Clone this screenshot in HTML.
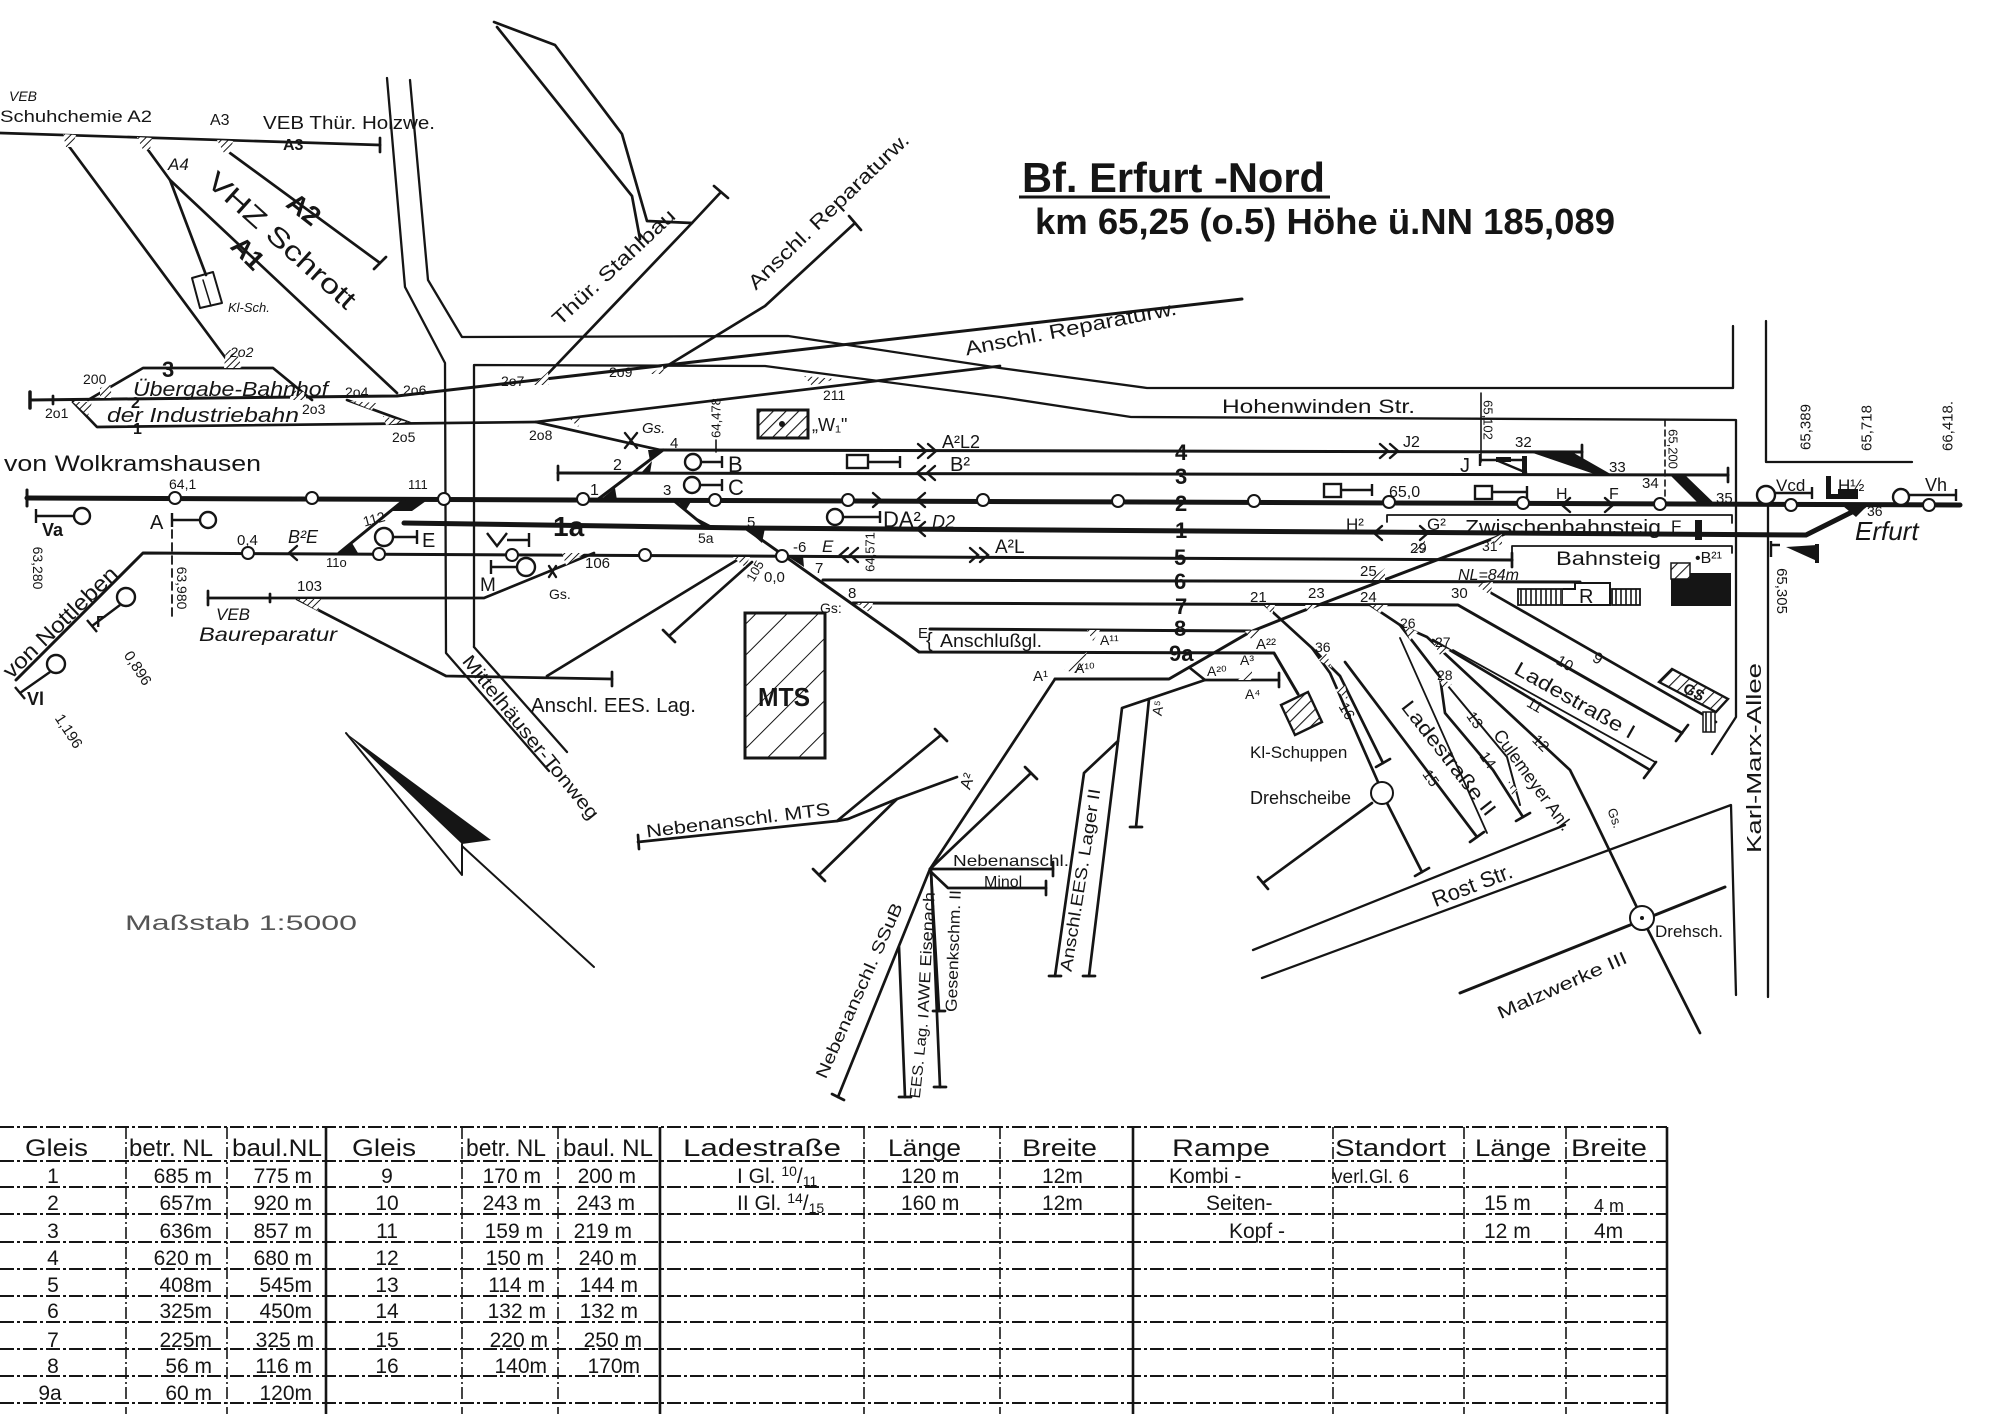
<!DOCTYPE html>
<html><head><meta charset="utf-8">
<style>
html,body{margin:0;padding:0;background:#fff;}
svg{display:block;}
text{font-family:"Liberation Sans",sans-serif;fill:#151515;}
.i{font-style:italic;}
.b{font-weight:bold;}
</style></head><body>
<svg width="2000" height="1414" viewBox="0 0 2000 1414" xmlns="http://www.w3.org/2000/svg">
<defs>
<pattern id="h" patternUnits="userSpaceOnUse" width="5" height="5" patternTransform="rotate(45)"><rect width="5" height="5" fill="#fff"/><line x1="0" y1="0" x2="0" y2="5" stroke="#151515" stroke-width="2"/></pattern>
<pattern id="hb" patternUnits="userSpaceOnUse" width="22" height="22" patternTransform="rotate(45)"><rect width="22" height="22" fill="#fff"/><line x1="0" y1="0" x2="0" y2="22" stroke="#151515" stroke-width="2"/></pattern>
<pattern id="hm" patternUnits="userSpaceOnUse" width="9" height="9" patternTransform="rotate(45)"><rect width="9" height="9" fill="#fff"/><line x1="0" y1="0" x2="0" y2="9" stroke="#151515" stroke-width="2.2"/></pattern>
<pattern id="vs" patternUnits="userSpaceOnUse" width="5" height="5"><rect width="5" height="5" fill="#fff"/><line x1="1" y1="0" x2="1" y2="5" stroke="#151515" stroke-width="1.6"/></pattern>
</defs>
<rect width="2000" height="1414" fill="#fff"/>

<!-- ============ LINES ============ -->
<g fill="none" stroke="#151515" stroke-width="2.7" stroke-linecap="round" stroke-linejoin="round">
<path d="M0,133 L380,145"/><path d="M380,138 L380,152"/>
<path d="M68,145 L233,368"/>
<path d="M143,143 L170,180 L397,393"/>
<path d="M170,180 L206,275"/>
<path d="M230,153 L380,263"/><path d="M374,269 L386,257"/>
<polygon points="192,278 213,272 222,303 200,308" stroke-width="2"/>
<path d="M203,280 L211,306" stroke-width="1.5"/>
<path d="M88,400 L143,368 L273,368 L312,400"/>
<path d="M30,400 L397,396 L1242,299" stroke-width="3"/>
<path d="M30,392 L30,408" stroke-width="3.5"/><path d="M53,396 L53,404"/>
<path d="M73,402 L97,427 L536,422"/>
<path d="M347,400 L410,423"/>
<path d="M536,422 L660,450"/>
<path d="M536,422 L1000,366"/>
<g stroke-width="2.3">
<path d="M387,78 L405,287 L445,363 L446,653 L549,771"/>
<path d="M410,80 L428,280 L462,337 L788,336 L1000,368 L1147,388 L1733,388 L1733,326"/>
<path d="M474,647 L474,365 L765,366 L1000,397 L1131,417 L1736,420 L1736,717 L1712,754"/>
<path d="M474,647 L567,752"/>
<path d="M1766,321 L1766,462 L1912,462"/>
<path d="M1768,505 L1768,997"/>
<path d="M1253,950 L1565,825"/>
<path d="M1262,978 L1731,805 L1736,995"/>
</g>
<path d="M542,380 L692,223 L721,192"/><path d="M714,186 L728,198"/>
<path d="M494,22 L555,45 L622,134 L647,221 L692,223"/>
<path d="M497,27 L632,196 L640,239"/>
<path d="M657,372 L765,306 L855,223"/><path d="M849,216 L861,230"/>

<path d="M27,498 L1960,505" stroke-width="5"/>
<path d="M27,490 L27,506" stroke-width="3"/>
<path d="M404,523 L745,528 L1806,535 L1864,506" stroke-width="5"/>
<path d="M339,553 L404,500" stroke-width="3"/>
<path d="M16,680 L143,553 L1512,560" stroke-width="3"/><path d="M1512,553 L1512,567"/>
<path d="M558,473 L1728,475" stroke-width="3"/><path d="M558,466 L558,480"/><path d="M1728,468 L1728,482"/>
<path d="M660,450 L1582,452" stroke-width="3"/><path d="M1582,445 L1582,459"/>
<path d="M663,450 L597,500" stroke-width="3"/>
<path d="M673,500 L707,528" stroke-width="3"/>
<path d="M745,528 L903,640 L919,652 L1274,653 L1298,694" stroke-width="3"/>
<path d="M823,580 L1580,582" stroke-width="3"/>
<path d="M853,603 L1458,605 L1682,733" stroke-width="3"/><path d="M1676,741 L1688,725"/>
<path d="M930,629 L1250,631" stroke-width="3"/>
<path d="M1055,679 L1169,679 L1250,632 L1300,612 L1505,534" stroke-width="3"/>
<path d="M1055,679 L930,869"/>
<path d="M957,777 L897,799 L848,819 L837,821 L638,842"/><path d="M638,835 L639,849"/>
<path d="M941,735 L837,821"/><path d="M935,729 L947,741"/>
<path d="M897,799 L819,875"/><path d="M813,869 L825,881"/>
<path d="M930,869 L1031,773"/><path d="M1025,767 L1037,779"/>
<path d="M930,869 L1053,869"/><path d="M1053,862 L1053,876"/>
<path d="M930,871 L948,888 L1046,888"/><path d="M1046,881 L1046,895"/>
<path d="M930,869 L838,1097"/><path d="M832,1094 L844,1100"/>
<path d="M931,870 L940,1087"/><path d="M934,1087 L946,1087"/>
<path d="M931,872 L939,1011"/><path d="M933,1011 L945,1011"/>
<path d="M899,947 L905,1097"/><path d="M899,1097 L911,1097"/>
<path d="M1190,668 L1205,680 L1279,680"/><path d="M1279,673 L1279,687"/>
<path d="M1205,680 L1122,708 L1118,741 L1089,976"/><path d="M1083,976 L1095,976"/>
<path d="M1118,741 L1084,773 L1055,976"/><path d="M1049,976 L1061,976"/>
<path d="M1149,699 L1136,827"/><path d="M1130,827 L1142,827"/>
<path d="M742,557 L547,676"/>
<path d="M297,599 L446,676 L612,679"/><path d="M612,672 L612,686"/>
<path d="M208,598 L484,598 L594,553"/><path d="M208,591 L208,605"/><path d="M270,594 L270,602"/>
<path d="M752,562 L669,636"/><path d="M663,630 L675,642"/>
<path d="M1486,590 L1716,722"/>
<path d="M1433,640 L1650,770"/><path d="M1644,778 L1656,762"/>
<path d="M1453,650 L1655,762" stroke-width="1.8"/>
<path d="M1370,605 L1400,625 L1427,637 L1570,770 L1590,810 L1642,918 L1700,1033"/>
<path d="M1400,625 L1440,677 L1445,713 L1493,770 L1523,817"/><path d="M1516,821 L1530,813"/>
<path d="M1443,680 L1507,757 L1520,805" stroke-width="2"/>
<path d="M1400,638 L1487,833" stroke-width="1.8"/>
<path d="M1345,662 L1477,837"/><path d="M1470,842 L1484,832"/>
<path d="M1265,605 L1312,648 L1340,676 L1383,763"/><path d="M1376,767 L1390,759"/>
<path d="M1312,648 L1330,673 L1378,782"/>
<path d="M1372,803 L1263,883"/><path d="M1258,877 L1268,889"/>
<path d="M1387,803 L1422,872"/><path d="M1415,876 L1429,868"/>
<path d="M1460,993 L1725,887" stroke-width="3"/>
<path d="M1387,522 L1387,515 L1732,515 L1732,523" stroke-width="1.8"/>
<path d="M1512,553 L1512,546 L1732,546 L1732,553" stroke-width="1.8"/>
<path d="M1481,393 L1481,462" stroke-width="1.6"/>
<path d="M1665,420 L1665,505" stroke-width="1.6" stroke-dasharray="6 4"/>
<path d="M172,530 L172,618" stroke-width="1.8" stroke-dasharray="8 5"/>
<path d="M716,440 L716,452" stroke-width="1.6"/>
<path d="M346,733 L462,875 L462,844" stroke-width="2"/>
<path d="M462,846 L594,967" stroke-width="2"/>
</g>

<g fill="#fff" stroke="#151515" stroke-width="2.4">
<path d="M36,509 L36,523 M36,516 L74,516" fill="none"/><circle cx="82" cy="516" r="8"/>
<path d="M172,513 L172,527 M172,520 L200,520" fill="none"/><circle cx="208" cy="520" r="8"/>
<circle cx="384" cy="537" r="9"/><path d="M393,537 L417,537 M417,530 L417,544" fill="none"/>
<path d="M487,533 L497,546 L507,533 M507,540 L529,540 M529,533 L529,547" fill="none"/>
<path d="M491,560 L491,574 M491,567 L517,567" fill="none"/><circle cx="526" cy="567" r="9"/>
<circle cx="693" cy="462" r="8"/><path d="M701,462 L722,462 M722,456 L722,468" fill="none"/>
<circle cx="692" cy="485" r="8"/><path d="M700,485 L722,485 M722,479 L722,491" fill="none"/>
<circle cx="835" cy="517" r="8"/><path d="M843,517 L880,517 M880,511 L880,523" fill="none"/>
<rect x="847" y="455" width="21" height="13"/><path d="M868,462 L900,462 M900,456 L900,468" fill="none"/>
<rect x="1324" y="484" width="17" height="13"/><path d="M1341,490 L1372,490 M1372,484 L1372,496" fill="none"/>
<rect x="1475" y="486" width="17" height="13"/><path d="M1492,492 L1527,492 M1527,486 L1527,498" fill="none"/>
<circle cx="1766" cy="495" r="9"/><path d="M1775,493 L1812,493 M1812,487 L1812,499" fill="none"/>
<circle cx="1901" cy="497" r="8"/><path d="M1909,495 L1956,495 M1956,489 L1956,501" fill="none"/>
<circle cx="56" cy="664" r="9"/><path d="M50,672 L20,693 M15,687 L25,699" fill="none"/>
<circle cx="126" cy="597" r="9"/><path d="M120,605 L92,626 M87,620 L97,632" fill="none"/>
<path d="M1480,460 L1527,460 M1480,454 L1480,466 M1496,460 L1527,473" fill="none"/>
<path d="M1771,541 L1771,557 M1771,545 L1780,545" fill="none"/>
<g stroke-width="2">
<circle cx="175" cy="498" r="6"/><circle cx="312" cy="498" r="6"/><circle cx="444" cy="499" r="6"/>
<circle cx="583" cy="499" r="6"/><circle cx="715" cy="500" r="6"/><circle cx="848" cy="500" r="6"/>
<circle cx="983" cy="500" r="6"/><circle cx="1118" cy="501" r="6"/><circle cx="1254" cy="501" r="6"/>
<circle cx="1389" cy="502" r="6"/><circle cx="1523" cy="503" r="6"/><circle cx="1660" cy="504" r="6"/>
<circle cx="1791" cy="505" r="6"/><circle cx="1929" cy="505" r="6"/>
<circle cx="248" cy="553" r="6"/><circle cx="379" cy="554" r="6"/><circle cx="512" cy="555" r="6"/>
<circle cx="645" cy="555" r="6"/><circle cx="782" cy="556" r="6"/>
<circle cx="1382" cy="793" r="11"/>
<circle cx="1642" cy="918" r="12"/>
</g>
</g>
<circle cx="1642" cy="918" r="2" fill="#151515"/>

<g fill="none" stroke="#151515" stroke-width="2.4" stroke-linecap="round">
<path d="M1380,444 L1388,451 L1380,458 M1390,444 L1398,451 L1390,458"/>
<path d="M918,444 L926,451 L918,458 M928,444 L936,451 L928,458"/>
<path d="M925,466 L917,473 L925,480 M935,466 L927,473 L935,480"/>
<path d="M873,493 L881,500 L873,507"/><path d="M925,493 L917,500 L925,507"/>
<path d="M1570,498 L1562,505 L1570,512"/><path d="M1605,498 L1613,505 L1605,512"/>
<path d="M925,522 L917,529 L925,536"/>
<path d="M1382,526 L1374,533 L1382,540"/><path d="M1420,526 L1428,533 L1420,540"/>
<path d="M297,546 L289,553 L297,560"/>
<path d="M848,548 L840,555 L848,562 M858,548 L850,555 L858,562"/>
<path d="M970,548 L978,555 L970,562 M980,548 L988,555 L980,562"/>
<path d="M625,433 L637,448 M637,433 L625,448"/>
<path d="M549,566 L556,577 M556,566 L549,577"/>
</g>

<g fill="#151515">
<polygon points="392,511 404,501 426,501 412,511"/>
<polygon points="339,553 352,543 358,553"/>
<polygon points="648,450 665,450 650,461"/>
<polygon points="652,461 641,473 650,473"/>
<polygon points="615,488 600,500 617,500"/>
<polygon points="676,500 692,500 686,510"/>
<polygon points="697,518 707,528 716,528"/>
<polygon points="745,528 765,528 762,543"/>
<polygon points="787,556 803,556 804,567"/>
<polygon points="1530,452 1572,452 1614,476 1600,476"/>
<polygon points="1671,476 1686,476 1716,505 1700,505"/>
<polygon points="1843,506 1867,506 1856,517"/>
<rect x="1496" y="457" width="15" height="5"/>
<rect x="1522" y="456" width="5" height="18"/>
<rect x="1695" y="520" width="7" height="20"/>
<rect x="1826" y="476" width="5" height="23"/>
<rect x="1826" y="494" width="32" height="5"/>
<rect x="1838" y="489" width="20" height="9"/>
<polygon points="1786,547 1817,545 1817,561"/>
<rect x="1815" y="544" width="4" height="19"/>
<rect x="1671" y="573" width="60" height="33"/>
<polygon points="346,733 491,840 462,844"/>
</g>

<g fill="url(#h)" stroke="none">
<polygon points="63,134 76,135 72,147 66,147"/>
<polygon points="137,137 152,138 150,150 143,150"/>
<polygon points="217,140 233,141 230,153 224,153"/>
<polygon points="226,350 236,350 242,368 224,368"/>
<polygon points="100,388 110,384 112,398 100,398"/>
<polygon points="73,402 92,402 88,416"/>
<polygon points="290,390 304,392 307,400 290,400"/>
<polygon points="350,401 376,403 372,410"/>
<polygon points="383,416 408,422 386,425"/>
<polygon points="533,385 548,372 549,385"/>
<polygon points="650,374 663,366 664,374"/>
<polygon points="804,376 835,379 812,386"/>
<polygon points="570,419 583,418 578,427"/>
<polygon points="297,599 321,599 318,611"/>
<polygon points="562,553 585,553 566,565"/>
<polygon points="733,557 750,557 745,567"/>
<polygon points="857,603 873,603 870,613"/>
<polygon points="1087,630 1100,630 1093,641"/>
<polygon points="1064,670 1087,652 1080,674"/>
<polygon points="1245,631 1260,630 1252,640"/>
<polygon points="1238,680 1252,668 1252,680"/>
<polygon points="1265,605 1275,605 1272,615"/>
<polygon points="1305,605 1317,605 1308,613"/>
<polygon points="1370,605 1388,605 1380,613"/>
<polygon points="1475,584 1493,582 1490,595"/>
<polygon points="1412,553 1425,540 1425,553"/>
<polygon points="1370,580 1385,568 1385,580"/>
<polygon points="1490,540 1502,534 1502,546"/>
<polygon points="1318,660 1326,653 1332,668"/>
<polygon points="1335,690 1345,685 1348,700"/>
<polygon points="1403,625 1418,632 1410,640"/>
<polygon points="1433,642 1450,650 1440,655"/>
<polygon points="1438,677 1452,684 1444,690"/>
<polygon points="1508,780 1518,790 1512,795"/>
</g>

<rect x="758" y="410" width="50" height="28" fill="url(#hm)" stroke="#151515" stroke-width="3"/>
<circle cx="782" cy="424" r="3" fill="#151515"/>
<rect x="745" y="613" width="80" height="145" fill="url(#hb)" stroke="#151515" stroke-width="3"/>
<polygon points="1281,705 1308,692 1322,722 1295,735" fill="url(#hm)" stroke="#151515" stroke-width="2.4"/>
<polygon points="1659,682 1672,669 1728,699 1716,712" fill="url(#hm)" stroke="#151515" stroke-width="2.4"/>
<text transform="translate(1694,692) rotate(28)" text-anchor="middle" dy="0.35em" font-size="15" class="b" style="fill:#151515;paint-order:stroke;stroke:#fff;stroke-width:0">GS</text>
<rect x="1703" y="712" width="12" height="20" fill="url(#vs)" stroke="#151515" stroke-width="1.5"/>
<rect x="1518" y="589" width="45" height="16" fill="url(#vs)" stroke="#151515" stroke-width="1.8"/>
<path d="M1563,589 L1575,589 L1575,583 L1610,583 L1610,605 L1563,605" fill="#fff" stroke="#151515" stroke-width="2"/>
<rect x="1612" y="589" width="28" height="16" fill="url(#vs)" stroke="#151515" stroke-width="1.8"/>
<rect x="1671" y="563" width="19" height="16" fill="url(#hm)" stroke="#151515" stroke-width="1.5"/>

<!-- ============ TEXT ============ -->
<text x="1022" y="192" font-size="42" class="b" textLength="303" lengthAdjust="spacingAndGlyphs">Bf. Erfurt -Nord</text>
<path d="M1019,197 L1330,197" stroke="#151515" stroke-width="3"/>
<text x="1035" y="234" font-size="36" class="b" textLength="580" lengthAdjust="spacingAndGlyphs">km 65,25 (o.5) Höhe ü.NN 185,089</text>

<text x="9" y="101" font-size="14" class="i">VEB</text>
<text x="0" y="122" font-size="17" textLength="152" lengthAdjust="spacingAndGlyphs">Schuhchemie A2</text>
<text x="210" y="125" font-size="16">A3</text>
<text x="263" y="129" font-size="18" textLength="172" lengthAdjust="spacingAndGlyphs">VEB Thür. Holzwe.</text>
<text x="283" y="150" font-size="16" class="b">A3</text>
<text x="168" y="170" font-size="17" class="i">A4</text>
<text transform="translate(282,240) rotate(42)" text-anchor="middle" dy="0.35em" font-size="27" textLength="190" lengthAdjust="spacingAndGlyphs">VHZ Schrott</text>
<text transform="translate(304,209) rotate(38)" text-anchor="middle" dy="0.35em" font-size="27" class="b">A2</text>
<text transform="translate(248,253) rotate(45)" text-anchor="middle" dy="0.35em" font-size="27" class="b">A1</text>
<text x="228" y="312" font-size="13" class="i">Kl-Sch.</text>
<text x="230" y="357" font-size="14" class="i">2o2</text>
<text x="83" y="384" font-size="14">200</text>
<text x="162" y="377" font-size="22" class="b">3</text>
<text x="133" y="396" font-size="20" class="i" textLength="195" lengthAdjust="spacingAndGlyphs">Übergabe-Bahnhof</text>
<text x="131" y="408" font-size="16" class="b">2</text>
<text x="45" y="418" font-size="14">2o1</text>
<text x="107" y="422" font-size="20" class="i" textLength="192" lengthAdjust="spacingAndGlyphs">der Industriebahn</text>
<text x="302" y="414" font-size="14">2o3</text>
<text x="133" y="434" font-size="16" class="b">1</text>
<text x="345" y="397" font-size="14">2o4</text>
<text x="403" y="395" font-size="14">2o6</text>
<text x="392" y="442" font-size="14">2o5</text>
<text x="501" y="386" font-size="14">2o7</text>
<text x="609" y="377" font-size="14">2o9</text>
<text x="823" y="400" font-size="14">211</text>
<text x="529" y="440" font-size="14">2o8</text>
<text transform="translate(621,275) rotate(-43)" text-anchor="middle" dy="-0.2em" font-size="20" textLength="160" lengthAdjust="spacingAndGlyphs">Thür. Stahlbau</text>
<text transform="translate(836,219) rotate(-44)" text-anchor="middle" dy="-0.2em" font-size="20" textLength="215" lengthAdjust="spacingAndGlyphs">Anschl. Reparaturw.</text>
<text transform="translate(1072,335) rotate(-11)" text-anchor="middle" font-size="20" textLength="215" lengthAdjust="spacingAndGlyphs">Anschl. Reparaturw.</text>
<text x="1222" y="413" font-size="19" textLength="193" lengthAdjust="spacingAndGlyphs">Hohenwinden Str.</text>

<text transform="translate(716,418) rotate(-90)" text-anchor="middle" dy="0.35em" font-size="13">64,478</text>
<text transform="translate(870,552) rotate(-90)" text-anchor="middle" dy="0.35em" font-size="13">64,571</text>
<text transform="translate(1488,420) rotate(90)" text-anchor="middle" dy="0.35em" font-size="13">65,102</text>
<text transform="translate(1673,449) rotate(90)" text-anchor="middle" dy="0.35em" font-size="13">65,200</text>
<text transform="translate(1805,427) rotate(-90)" text-anchor="middle" dy="0.35em" font-size="15">65,389</text>
<text transform="translate(1866,428) rotate(-90)" text-anchor="middle" dy="0.35em" font-size="15">65,718</text>
<text transform="translate(1947,426) rotate(-90)" text-anchor="middle" dy="0.35em" font-size="15">66,418.</text>
<text transform="translate(1782,591) rotate(90)" text-anchor="middle" dy="0.35em" font-size="15">65,305</text>
<text transform="translate(38,568) rotate(90)" text-anchor="middle" dy="0.35em" font-size="14">63,280</text>
<text transform="translate(182,588) rotate(90)" text-anchor="middle" dy="0.35em" font-size="14">63,980</text>

<text x="812" y="431" font-size="18">„W₁"</text>
<text x="642" y="433" font-size="15" class="i">Gs.</text>
<text x="670" y="448" font-size="15">4</text>
<text x="613" y="470" font-size="16">2</text>
<text x="590" y="495" font-size="16">1</text>
<text x="663" y="495" font-size="15">3</text>
<text x="728" y="472" font-size="22">B</text>
<text x="728" y="495" font-size="22">C</text>
<text x="942" y="448" font-size="18">A²L2</text>
<text x="950" y="471" font-size="20">B²</text>
<text x="883" y="527" font-size="22">DA²</text>
<text x="932" y="528" font-size="18" class="i">D2</text>
<text x="747" y="527" font-size="15">5</text>
<text x="698" y="543" font-size="14">5a</text>
<text x="822" y="552" font-size="17" class="i">E</text>
<text x="995" y="553" font-size="19">A²L</text>
<text x="793" y="552" font-size="15">-6</text>
<text x="815" y="573" font-size="15">7</text>
<text x="848" y="598" font-size="15">8</text>
<text x="820" y="613" font-size="14">Gs:</text>
<text transform="translate(755,571) rotate(-60)" text-anchor="middle" dy="0.35em" font-size="13">105</text>
<text x="764" y="582" font-size="15">0,0</text>
<text x="758" y="706" font-size="26" class="b" textLength="52" lengthAdjust="spacingAndGlyphs">MTS</text>
<text x="918" y="638" font-size="15">E</text>
<text x="926" y="647" font-size="20">{</text>
<text x="940" y="647" font-size="18" textLength="102" lengthAdjust="spacingAndGlyphs">Anschlußgl.</text>

<g font-size="22" class="b">
<text x="1175" y="460">4</text>
<text x="1175" y="484">3</text>
<text x="1175" y="511">2</text>
<text x="1175" y="538">1</text>
<text x="1174" y="565">5</text>
<text x="1174" y="589">6</text>
<text x="1175" y="614">7</text>
<text x="1174" y="636">8</text>
<text x="1169" y="661">9a</text>
</g>

<text x="1403" y="447" font-size="16">J2</text>
<text x="1460" y="472" font-size="20">J</text>
<text x="1515" y="447" font-size="15">32</text>
<text x="1609" y="472" font-size="15">33</text>
<text x="1389" y="497" font-size="16">65,0</text>
<text x="1556" y="499" font-size="16">H</text>
<text x="1609" y="499" font-size="16">F</text>
<text x="1642" y="488" font-size="15">34</text>
<text x="1716" y="503" font-size="15">35</text>
<text x="1776" y="491" font-size="17">Vcd</text>
<text x="1838" y="491" font-size="17">H½</text>
<text x="1925" y="491" font-size="18">Vh</text>
<text x="1867" y="516" font-size="14">36</text>
<text x="1855" y="540" font-size="26" class="i">Erfurt</text>
<text x="1346" y="530" font-size="17">H²</text>
<text x="1427" y="530" font-size="17">G²</text>
<text x="1465" y="534" font-size="20" textLength="196" lengthAdjust="spacingAndGlyphs">Zwischenbahnsteig</text>
<text x="1671" y="532" font-size="17">F</text>
<text x="1410" y="553" font-size="15">29</text>
<text x="1482" y="551" font-size="14">31</text>
<text x="1556" y="565" font-size="19" textLength="105" lengthAdjust="spacingAndGlyphs">Bahnsteig</text>
<text x="1695" y="563" font-size="16">•B²¹</text>
<text x="1360" y="576" font-size="15">25</text>
<text x="1458" y="580" font-size="16" class="i">NL=84m</text>
<text x="1451" y="598" font-size="15">30</text>
<text x="1579" y="603" font-size="20">R</text>
<text x="1250" y="602" font-size="15">21</text>
<text x="1308" y="598" font-size="15">23</text>
<text x="1360" y="602" font-size="15">24</text>
<text x="1256" y="649" font-size="15">A²²</text>
<text x="1207" y="676" font-size="14">A²⁰</text>
<text x="1240" y="665" font-size="14">A³</text>
<text x="1245" y="699" font-size="14">A⁴</text>
<text x="1033" y="681" font-size="15">A¹</text>
<text x="1075" y="673" font-size="14">A¹⁰</text>
<text x="1100" y="645" font-size="14">A¹¹</text>
<text transform="translate(1158,708) rotate(-80)" text-anchor="middle" dy="0.35em" font-size="14">A⁵</text>
<text x="1315" y="652" font-size="14">36</text>
<text x="1400" y="628" font-size="14">26</text>
<text x="1435" y="647" font-size="14">27</text>
<text x="1437" y="680" font-size="14">28</text>
<text x="1250" y="758" font-size="17">Kl-Schuppen</text>
<text x="1250" y="804" font-size="18">Drehscheibe</text>
<text transform="translate(1575,700) rotate(29.5)" text-anchor="middle" dy="0.35em" font-size="20" textLength="135" lengthAdjust="spacingAndGlyphs">Ladestraße I</text>
<text transform="translate(1565,663) rotate(30)" text-anchor="middle" dy="0.35em" font-size="15">10</text>
<text transform="translate(1598,658) rotate(30)" text-anchor="middle" dy="0.35em" font-size="16">9</text>
<text transform="translate(1535,705) rotate(30)" text-anchor="middle" dy="0.35em" font-size="15">11</text>
<text transform="translate(1541,743) rotate(45)" text-anchor="middle" dy="0.35em" font-size="15">12</text>
<text transform="translate(1475,720) rotate(55)" text-anchor="middle" dy="0.35em" font-size="15">13</text>
<text transform="translate(1488,760) rotate(55)" text-anchor="middle" dy="0.35em" font-size="15">14</text>
<text transform="translate(1431,778) rotate(55)" text-anchor="middle" dy="0.35em" font-size="15">15</text>
<text transform="translate(1347,711) rotate(60)" text-anchor="middle" dy="0.35em" font-size="15">16</text>
<text transform="translate(1449,758) rotate(52)" text-anchor="middle" dy="0.35em" font-size="20" textLength="140" lengthAdjust="spacingAndGlyphs">Ladestraße II</text>
<text transform="translate(1533,780) rotate(54)" text-anchor="middle" dy="0.35em" font-size="18" textLength="120" lengthAdjust="spacingAndGlyphs">Culemeyer Anl.</text>
<text transform="translate(1472,885) rotate(-21)" text-anchor="middle" dy="0.35em" font-size="22">Rost Str.</text>
<text transform="translate(1562,985) rotate(-24)" text-anchor="middle" dy="0.35em" font-size="18" textLength="140" lengthAdjust="spacingAndGlyphs">Malzwerke III</text>
<text x="1655" y="937" font-size="17">Drehsch.</text>
<text transform="translate(1615,818) rotate(70)" text-anchor="middle" dy="0.35em" font-size="13">Gs.</text>
<text transform="translate(1754,758) rotate(-90)" text-anchor="middle" dy="0.35em" font-size="20" textLength="190" lengthAdjust="spacingAndGlyphs">Karl-Marx-Allee</text>

<text x="4" y="471" font-size="22" textLength="257" lengthAdjust="spacingAndGlyphs">von Wolkramshausen</text>
<text x="169" y="489" font-size="14">64,1</text>
<text x="408" y="489" font-size="13">111</text>
<text x="42" y="536" font-size="18" class="b">Va</text>
<text x="150" y="529" font-size="20">A</text>
<text x="237" y="545" font-size="15">0,4</text>
<text x="288" y="543" font-size="18" class="i">B²E</text>
<text x="326" y="567" font-size="13">11o</text>
<text transform="translate(374,519) rotate(-15)" text-anchor="middle" dy="0.35em" font-size="14">112</text>
<text x="422" y="547" font-size="20">E</text>
<text x="553" y="536" font-size="28" class="b">1a</text>
<text x="480" y="591" font-size="19">M</text>
<text x="585" y="568" font-size="15">106</text>
<text x="549" y="599" font-size="14">Gs.</text>
<text x="297" y="591" font-size="15">103</text>
<text x="216" y="620" font-size="17" class="i">VEB</text>
<text x="199" y="641" font-size="19" class="i" textLength="138" lengthAdjust="spacingAndGlyphs">Baureparatur</text>
<text transform="translate(60,622) rotate(-44)" text-anchor="middle" dy="0.35em" font-size="22" textLength="150" lengthAdjust="spacingAndGlyphs">von Nottleben</text>
<text x="27" y="705" font-size="18" class="b">Vl</text>
<text transform="translate(69,731) rotate(57)" text-anchor="middle" dy="0.35em" font-size="15">1,196</text>
<text transform="translate(138,668) rotate(57)" text-anchor="middle" dy="0.35em" font-size="15">0,896</text>
<text x="96" y="627" font-size="16" class="b">Γ</text>
<text transform="translate(531,737) rotate(51)" text-anchor="middle" dy="0.35em" font-size="19" textLength="205" lengthAdjust="spacingAndGlyphs">Mittelhäuser-Tonweg</text>
<text x="531" y="712" font-size="20" textLength="165" lengthAdjust="spacingAndGlyphs">Anschl. EES. Lag.</text>
<text x="125" y="930" font-size="21" style="fill:#555" textLength="232" lengthAdjust="spacingAndGlyphs">Maßstab  1:5000</text>
<text transform="translate(738,820) rotate(-7)" text-anchor="middle" dy="0.35em" font-size="18" textLength="185" lengthAdjust="spacingAndGlyphs">Nebenanschl. MTS</text>
<text transform="translate(967,781) rotate(-72)" text-anchor="middle" dy="0.35em" font-size="16">A²</text>
<text x="953" y="866" font-size="16" textLength="116" lengthAdjust="spacingAndGlyphs">Nebenanschl.</text>
<text x="984" y="887" font-size="16">Minol</text>
<text transform="translate(869,995) rotate(-66)" text-anchor="middle" dy="-0.3em" font-size="17" textLength="190" lengthAdjust="spacingAndGlyphs">Nebenanschl. SSuB</text>
<text transform="translate(926,952) rotate(-87)" text-anchor="middle" dy="0.35em" font-size="16" textLength="120" lengthAdjust="spacingAndGlyphs">AWE Eisenach</text>
<text transform="translate(953,951) rotate(-88)" text-anchor="middle" dy="0.35em" font-size="16" textLength="122" lengthAdjust="spacingAndGlyphs">Gesenkschm. II</text>
<text transform="translate(919,1056) rotate(-84)" text-anchor="middle" dy="0.35em" font-size="15" textLength="85" lengthAdjust="spacingAndGlyphs">EES. Lag. I</text>
<text transform="translate(1080,880) rotate(-81)" text-anchor="middle" dy="0.35em" font-size="17" textLength="185" lengthAdjust="spacingAndGlyphs">Anschl.EES. Lager II</text>

<!-- ============ TABLE ============ -->
<g stroke="#151515" fill="none">
<g stroke-width="2" stroke-dasharray="14 3 3 3">
<path d="M0,1127 L1667,1127"/><path d="M0,1161 L1667,1161"/><path d="M0,1187 L1667,1187"/>
<path d="M0,1214 L1667,1214"/><path d="M0,1242 L1667,1242"/><path d="M0,1269 L1667,1269"/>
<path d="M0,1296 L1667,1296"/><path d="M0,1322 L1667,1322"/><path d="M0,1349 L1667,1349"/>
<path d="M0,1376 L1667,1376"/><path d="M0,1403 L1667,1403"/>
</g>
<g stroke-width="1.6" stroke-dasharray="12 3 2 3">
<path d="M126,1127 L126,1414"/><path d="M227,1127 L227,1414"/><path d="M462,1127 L462,1414"/>
<path d="M558,1127 L558,1414"/><path d="M864,1127 L864,1414"/><path d="M1000,1127 L1000,1414"/>
<path d="M1333,1127 L1333,1414"/><path d="M1464,1127 L1464,1414"/><path d="M1566,1127 L1566,1414"/>
</g>
<g stroke-width="2.6">
<path d="M326,1127 L326,1414"/><path d="M660,1127 L660,1414"/><path d="M1133,1127 L1133,1414"/><path d="M1667,1127 L1667,1414"/>
</g>
</g>
<g font-size="24">
<text x="25" y="1156" textLength="63" lengthAdjust="spacingAndGlyphs">Gleis</text>
<text x="129" y="1156" textLength="84" lengthAdjust="spacingAndGlyphs">betr. NL</text>
<text x="232" y="1156" textLength="90" lengthAdjust="spacingAndGlyphs">baul.NL</text>
<text x="352" y="1156" textLength="64" lengthAdjust="spacingAndGlyphs">Gleis</text>
<text x="466" y="1156" textLength="80" lengthAdjust="spacingAndGlyphs">betr. NL</text>
<text x="563" y="1156" textLength="90" lengthAdjust="spacingAndGlyphs">baul. NL</text>
<text x="683" y="1156" textLength="158" lengthAdjust="spacingAndGlyphs">Ladestraße</text>
<text x="888" y="1156" textLength="73" lengthAdjust="spacingAndGlyphs">Länge</text>
<text x="1022" y="1156" textLength="75" lengthAdjust="spacingAndGlyphs">Breite</text>
<text x="1172" y="1156" textLength="98" lengthAdjust="spacingAndGlyphs">Rampe</text>
<text x="1335" y="1156" textLength="111" lengthAdjust="spacingAndGlyphs">Standort</text>
<text x="1475" y="1156" textLength="76" lengthAdjust="spacingAndGlyphs">Länge</text>
<text x="1571" y="1156" textLength="76" lengthAdjust="spacingAndGlyphs">Breite</text>
</g>
<g font-size="21">
<g text-anchor="middle">
<text x="53" y="1183">1</text><text x="53" y="1210">2</text><text x="53" y="1238">3</text>
<text x="53" y="1265">4</text><text x="53" y="1292">5</text><text x="53" y="1318">6</text>
<text x="53" y="1347">7</text><text x="53" y="1373">8</text><text x="50" y="1400">9a</text>
<text x="387" y="1183">9</text><text x="387" y="1210">10</text><text x="387" y="1238">11</text>
<text x="387" y="1265">12</text><text x="387" y="1292">13</text><text x="387" y="1318">14</text>
<text x="387" y="1347">15</text><text x="387" y="1373">16</text>
</g>
<g text-anchor="end">
<text x="212" y="1183">685 m</text><text x="212" y="1210">657m</text><text x="212" y="1238">636m</text>
<text x="212" y="1265">620 m</text><text x="212" y="1292">408m</text><text x="212" y="1318">325m</text>
<text x="212" y="1347">225m</text><text x="212" y="1373">56 m</text><text x="212" y="1400">60 m</text>
<text x="312" y="1183">775 m</text><text x="312" y="1210">920 m</text><text x="312" y="1238">857 m</text>
<text x="312" y="1265">680 m</text><text x="312" y="1292">545m</text><text x="312" y="1318">450m</text>
<text x="314" y="1347">325 m</text><text x="312" y="1373">116 m</text><text x="312" y="1400">120m</text>
<text x="541" y="1183">170 m</text><text x="541" y="1210">243 m</text><text x="543" y="1238">159 m</text>
<text x="544" y="1265">150 m</text><text x="545" y="1292">114 m</text><text x="546" y="1318">132 m</text>
<text x="548" y="1347">220 m</text><text x="547" y="1373">140m</text>
<text x="636" y="1183">200 m</text><text x="635" y="1210">243 m</text><text x="632" y="1238">219 m</text>
<text x="637" y="1265">240 m</text><text x="638" y="1292">144 m</text><text x="638" y="1318">132 m</text>
<text x="642" y="1347">250 m</text><text x="640" y="1373">170m</text>
</g>
<text x="737" y="1183">I Gl. <tspan font-size="14" dy="-7">10</tspan><tspan dy="7">/</tspan><tspan font-size="14" dy="3">11</tspan></text>
<text x="737" y="1210">II Gl. <tspan font-size="14" dy="-7">14</tspan><tspan dy="7">/</tspan><tspan font-size="14" dy="3">15</tspan></text>
<text x="901" y="1183">120 m</text><text x="901" y="1210">160 m</text>
<text x="1042" y="1183">12m</text><text x="1042" y="1210">12m</text>
<text x="1169" y="1183">Kombi -</text><text x="1206" y="1210">Seiten-</text><text x="1229" y="1238">Kopf -</text>
<text x="1333" y="1183" font-size="19">verl.Gl. 6</text>
<text x="1484" y="1210">15 m</text><text x="1484" y="1238">12 m</text>
<text x="1594" y="1212" font-size="18">4 m</text><text x="1594" y="1238">4m</text>
</g>
</svg>
</body></html>
